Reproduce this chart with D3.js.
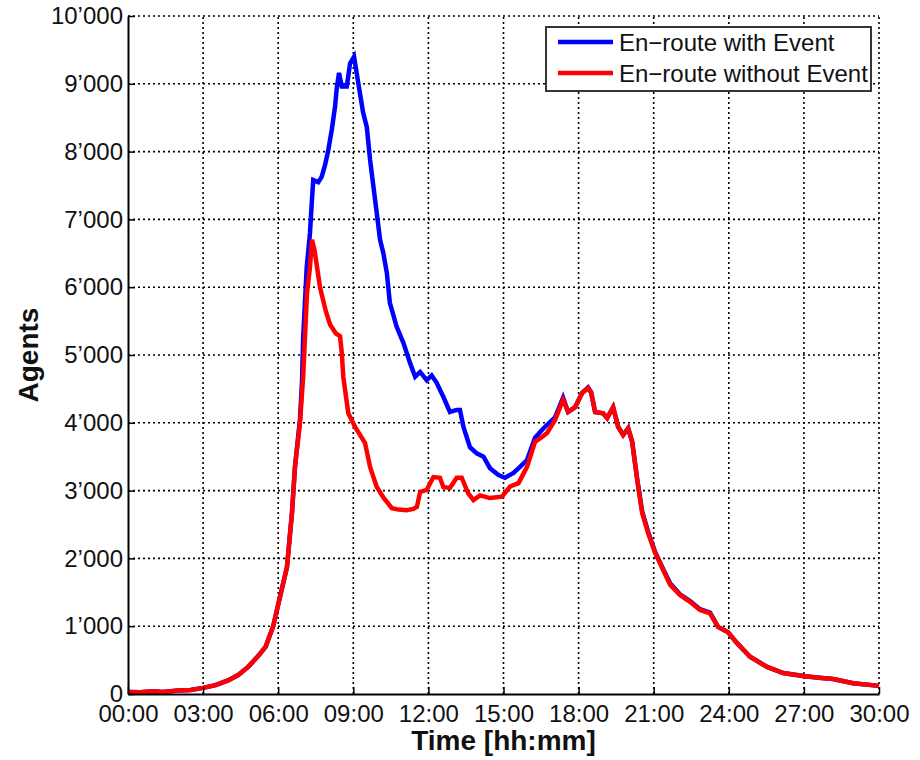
<!DOCTYPE html>
<html>
<head>
<meta charset="utf-8">
<script src="https://cdn.jsdelivr.net/npm/d3@7"></script>
<style>
  body { margin: 0; background: #fff; }
  svg { display: block; font-family: "Liberation Sans", Arial, sans-serif; }
</style>
</head>
<body>
<div class="main-container"></div>
<script>
// hours since midnight, agents en-route
const timesWithout = [0, 0.5, 1.0, 1.4, 2.0, 2.5, 3.0, 3.5, 4.0, 4.4, 4.8, 5.2, 5.5, 5.8, 6.07, 6.35, 6.55, 6.67, 6.87, 7.0,
  7.15, 7.27, 7.35, 7.45, 7.55, 7.67, 7.9, 8.07, 8.3, 8.47, 8.54, 8.6, 8.8, 9.07, 9.47, 9.67, 9.93, 10.2, 10.54, 10.8,
  11.13, 11.4, 11.54, 11.67, 11.93, 12.2, 12.46, 12.6, 12.86, 13.13, 13.33, 13.59, 13.8, 14.06, 14.46, 14.94, 15.26, 15.6, 15.94, 16.26,
  16.5, 16.74, 17.06, 17.38, 17.58, 17.86, 18.14, 18.38, 18.5, 18.66, 18.98, 19.14, 19.38, 19.58, 19.78, 19.98, 20.14, 20.34, 20.54, 20.78,
  21.06, 21.38, 21.66, 22.05, 22.45, 22.85, 23.25, 23.57, 23.97, 24.33, 24.85, 25.53, 26.17, 26.97, 27.6, 28.17, 28.97, 30];
const valuesWithout = [30, 25, 40, 30, 50, 60, 90, 130, 200, 280, 400, 560, 700, 1000, 1430, 1870, 2670, 3350, 4000, 4700,
  5910, 6300, 6700, 6550, 6300, 6000, 5650, 5450, 5320, 5280, 5030, 4680, 4140, 3940, 3700, 3350, 3060, 2900, 2740, 2720,
  2710, 2730, 2760, 2980, 3010, 3200, 3190, 3050, 3040, 3190, 3190, 2960, 2860, 2930, 2890, 2910, 3060, 3110, 3350, 3720,
  3780, 3850, 4040, 4340, 4160, 4230, 4440, 4510, 4450, 4160, 4140, 4070, 4230, 3940, 3820, 3920, 3720, 3160, 2670, 2370,
  2080, 1830, 1610, 1460, 1360, 1240, 1190, 990, 910, 750, 550, 400, 310, 265, 240, 220, 160, 120];

const timesWith = [0, 0.5, 1.0, 1.4, 2.0, 2.5, 3.0, 3.5, 4.0, 4.4, 4.8, 5.2, 5.5, 5.8, 6.07, 6.35, 6.55, 6.67, 6.87, 6.95,
  7.0, 7.14, 7.27, 7.34, 7.4, 7.6, 7.74, 7.87, 8.0, 8.14, 8.27, 8.34, 8.43, 8.54, 8.74, 8.87, 9.03, 9.2, 9.39, 9.54,
  9.67, 9.87, 10.07, 10.2, 10.34, 10.46, 10.73, 11.0, 11.27, 11.47, 11.67, 11.93, 12.13, 12.33, 12.6, 12.86, 13.13, 13.26, 13.4, 13.66,
  13.93, 14.2, 14.46, 14.8, 15.06, 15.4, 15.66, 15.94, 16.26, 16.6, 16.86, 17.06, 17.38, 17.58, 17.86, 18.14, 18.38, 18.5, 18.66, 18.98,
  19.14, 19.38, 19.58, 19.78, 19.98, 20.14, 20.34, 20.54, 20.78, 21.06, 21.38, 21.66, 22.05, 22.45, 22.85, 23.25, 23.57, 23.97, 24.33, 24.85,
  25.53, 26.17, 26.97, 27.6, 28.17, 28.97, 30];
const valuesWith = [30, 25, 40, 30, 50, 60, 90, 130, 200, 280, 400, 560, 700, 1000, 1430, 1870, 2670, 3350, 4050, 4600,
  5270, 6300, 6800, 7240, 7580, 7550, 7630, 7800, 8020, 8320, 8660, 8940, 9160, 8960, 8960, 9300, 9400, 9010, 8580, 8360,
  7880, 7290, 6700, 6500, 6210, 5770, 5420, 5180, 4880, 4680, 4750, 4630, 4700, 4590, 4380, 4160, 4190, 4190, 3940, 3640,
  3550, 3500, 3330, 3230, 3190, 3260, 3350, 3450, 3780, 3920, 4010, 4080, 4370, 4160, 4230, 4440, 4520, 4450, 4160, 4140,
  4070, 4230, 3940, 3820, 3920, 3720, 3170, 2690, 2390, 2090, 1840, 1630, 1470, 1370, 1250, 1200, 990, 910, 750, 550,
  400, 310, 265, 240, 220, 160, 120];

const seriesNames = ["En\u2212route with Event", "En\u2212route without Event"];
const seriesColors = ["#0000ff", "#ff0000"];
const xTicks = [0, 3, 6, 9, 12, 15, 18, 21, 24, 27, 30];
const yTicks = [0, 1000, 2000, 3000, 4000, 5000, 6000, 7000, 8000, 9000, 10000];

const W = 920, H = 760;
const M = {left: 128, top: 16, right: 41, bottom: 66};

const fmtTime = (h) => String(h).padStart(2, "0") + ":00";
const fmtAgents = (v) => d3.format(",")(v).replace(/,/g, "\u2019");

function main() {
  const root = document.querySelector(".main-container");
  const svg = d3.select(root).append("svg").attr("width", W).attr("height", H);
  const x = d3.scaleLinear().domain([0, 30]).range([M.left, W - M.right]);
  const y = d3.scaleLinear().domain([0, 10000]).range([H - M.bottom, M.top]);
  const pw = W - M.left - M.right, ph = H - M.top - M.bottom;

  // dotted grid
  const grid = svg.append("g").attr("stroke", "#000").attr("stroke-width", 1.6).attr("stroke-dasharray", "2,3");
  grid.selectAll(".gx").data(xTicks.slice(1)).join("line")
    .attr("x1", d => x(d)).attr("x2", d => x(d)).attr("y1", y(0)).attr("y2", y(10000));
  grid.selectAll(".gy").data(yTicks.slice(1)).join("line")
    .attr("x1", x(0)).attr("x2", x(30)).attr("y1", d => y(d)).attr("y2", d => y(d));

  // curves
  const line = d3.line().x(d => x(d[0])).y(d => y(d[1]));
  const dataWith = timesWith.map((t, i) => [t, valuesWith[i]]);
  const dataWithout = timesWithout.map((t, i) => [t, valuesWithout[i]]);
  [dataWith, dataWithout].forEach((data, i) => {
    svg.append("path").datum(data).attr("d", line)
      .attr("fill", "none").attr("stroke", seriesColors[i]).attr("stroke-width", 4.5)
      .attr("stroke-linejoin", "miter");
  });

  // axes
  const xAxis = svg.append("g").attr("transform", `translate(0,${y(0)})`)
    .call(d3.axisBottom(x).tickValues(xTicks).tickFormat(fmtTime).tickSizeInner(-7).tickSizeOuter(0).tickPadding(11));
  const yAxis = svg.append("g").attr("transform", `translate(${x(0)},0)`)
    .call(d3.axisLeft(y).tickValues(yTicks).tickFormat(fmtAgents).tickSizeInner(-7).tickSizeOuter(0).tickPadding(5));
  [xAxis, yAxis].forEach(a => {
    a.selectAll("path").attr("stroke", "#000").attr("stroke-width", 2);
    a.selectAll("line").attr("stroke", "#000").attr("stroke-width", 1.5);
    a.selectAll("text").attr("font-size", 24).attr("fill", "#111").attr("font-family", "Liberation Sans, Arial, sans-serif");
  });

  svg.append("text").attr("x", M.left + pw / 2).attr("y", 750)
    .attr("text-anchor", "middle").attr("font-size", 28).attr("font-weight", "bold").attr("fill", "#111")
    .text("Time [hh:mm]");
  svg.append("text").attr("transform", `translate(38,${M.top + ph / 2}) rotate(-90)`)
    .attr("text-anchor", "middle").attr("font-size", 28).attr("font-weight", "bold").attr("fill", "#111")
    .text("Agents");

  // legend
  const lg = svg.append("g");
  lg.append("rect").attr("x", 546).attr("y", 27).attr("width", 325).attr("height", 64)
    .attr("fill", "#fff").attr("stroke", "#222").attr("stroke-width", 1.8);
  seriesNames.forEach((name, i) => {
    const ly = 42 + i * 31;
    lg.append("line").attr("x1", 558).attr("x2", 613).attr("y1", ly).attr("y2", ly)
      .attr("stroke", seriesColors[i]).attr("stroke-width", 4.5);
    lg.append("text").attr("x", 619).attr("y", ly + 9).attr("font-size", 24).attr("fill", "#111").text(name);
  });
}
main();
</script>
</body>
</html>
